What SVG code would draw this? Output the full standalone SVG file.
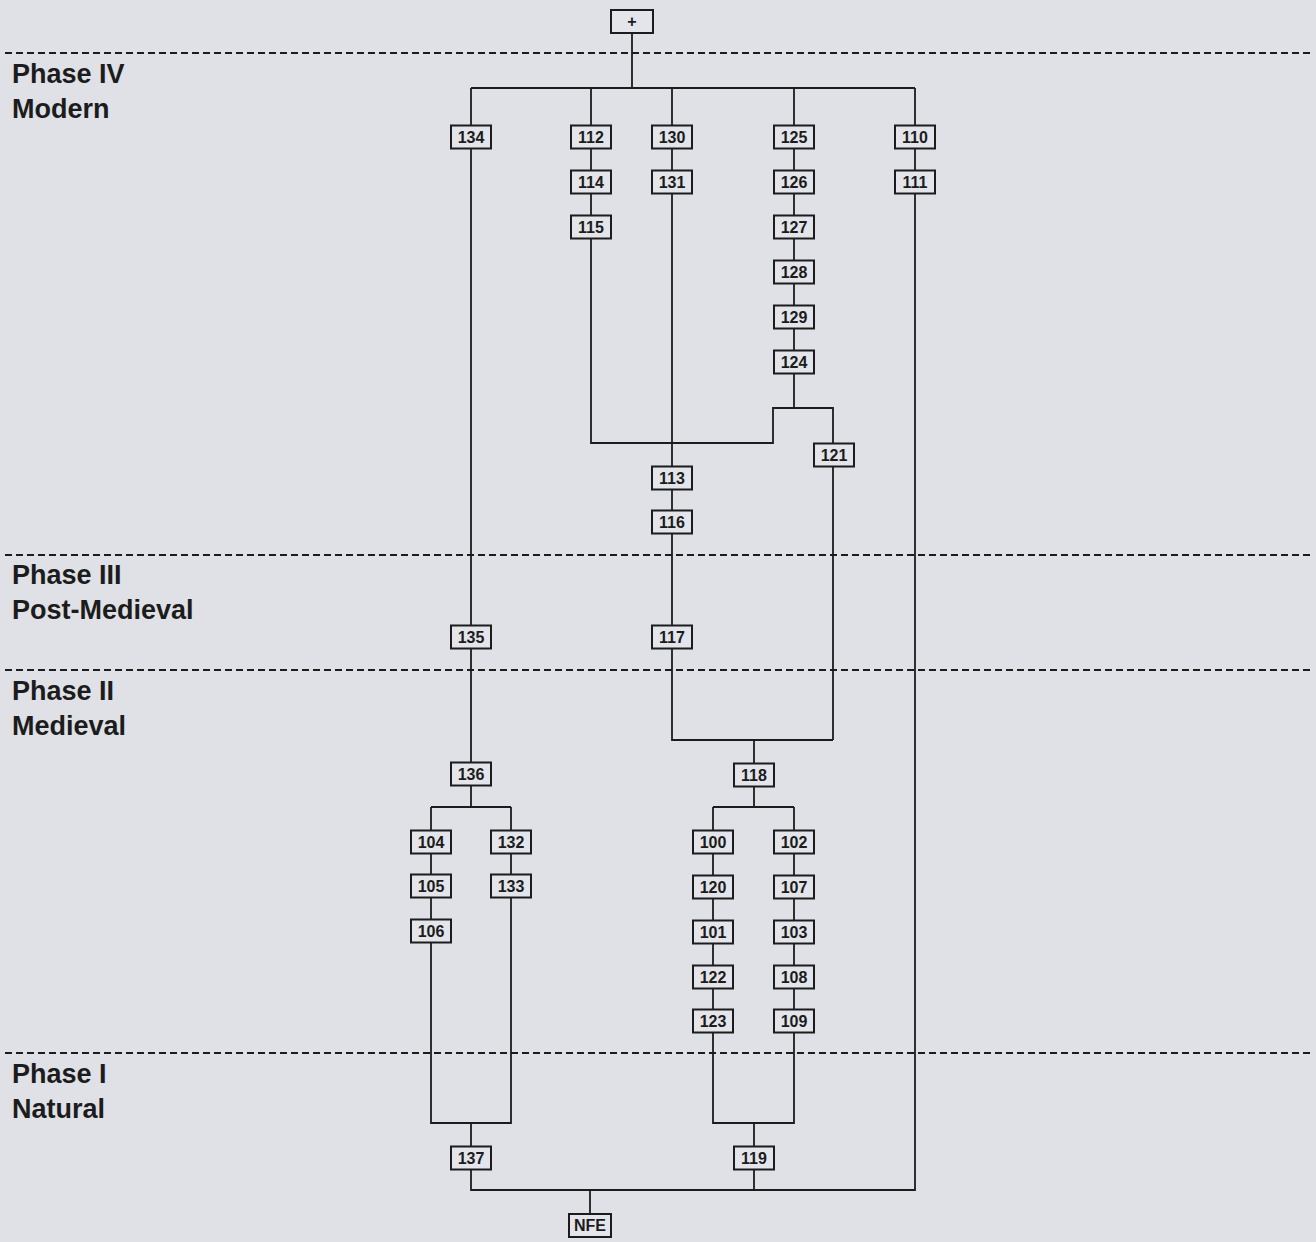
<svg xmlns="http://www.w3.org/2000/svg" width="1316" height="1242" viewBox="0 0 1316 1242">
<style>
.bg{fill:#dfe1e6}
.box{fill:#e3e5ea;stroke:#1c1c1c;stroke-width:2}
.t{font-family:"Liberation Sans",Arial,sans-serif;font-weight:bold;font-size:16px;fill:#1c1c1c;text-anchor:middle}
.ph{font-family:"Liberation Sans",Arial,sans-serif;font-weight:bold;font-size:27px;fill:#1c1c1c}
.c{fill:none;stroke:#1c1c1c;stroke-width:1.8}
.d{fill:none;stroke:#1c1c1c;stroke-width:2;stroke-dasharray:7 4}
</style>
<defs>
<rect id="b" class="box" x="-20" y="-11.5" width="40" height="23"/>
</defs>
<rect class="bg" x="0" y="0" width="1316" height="1242"/>
<g id="phases">
<line class="d" x1="5" y1="53" x2="1310" y2="53"/>
<line class="d" x1="5" y1="555" x2="1310" y2="555"/>
<line class="d" x1="5" y1="670" x2="1310" y2="670"/>
<line class="d" x1="5" y1="1053" x2="1310" y2="1053"/>
<text class="ph" x="12" y="83">Phase IV</text>
<text class="ph" x="12" y="118">Modern</text>
<text class="ph" x="12" y="584">Phase III</text>
<text class="ph" x="12" y="619">Post-Medieval</text>
<text class="ph" x="12" y="700">Phase II</text>
<text class="ph" x="12" y="735">Medieval</text>
<text class="ph" x="12" y="1083">Phase I</text>
<text class="ph" x="12" y="1118">Natural</text>
</g>
<g id="connectors">
<path class="c" d="M632,33 V88 M471,88 H915"/>
<path class="c" d="M471,88 V807 M431,807 H511 M431,807 V1123 H511 V807 M471,1123 V1190 H915 V88"/>
<path class="c" d="M591,88 V443 H773 V408 H833 V740 M672,88 V740 H833 M794,88 V408"/>
<path class="c" d="M754,740 V807 M713,807 H794 M713,807 V1123 H794 V807 M754,1123 V1190"/>
<path class="c" d="M590,1190 V1214"/>
</g>
<g id="top"><rect class="box" x="611" y="10" width="42" height="23"/><text class="t" x="632" y="27">+</text></g>
<g id="n134"><use href="#b" x="471" y="137"/><text class="t" x="471" y="143">134</text></g>
<g id="n112"><use href="#b" x="591" y="137"/><text class="t" x="591" y="143">112</text></g>
<g id="n114"><use href="#b" x="591" y="182"/><text class="t" x="591" y="188">114</text></g>
<g id="n115"><use href="#b" x="591" y="227"/><text class="t" x="591" y="233">115</text></g>
<g id="n130"><use href="#b" x="672" y="137"/><text class="t" x="672" y="143">130</text></g>
<g id="n131"><use href="#b" x="672" y="182"/><text class="t" x="672" y="188">131</text></g>
<g id="n125"><use href="#b" x="794" y="137"/><text class="t" x="794" y="143">125</text></g>
<g id="n126"><use href="#b" x="794" y="182"/><text class="t" x="794" y="188">126</text></g>
<g id="n127"><use href="#b" x="794" y="227"/><text class="t" x="794" y="233">127</text></g>
<g id="n128"><use href="#b" x="794" y="272"/><text class="t" x="794" y="278">128</text></g>
<g id="n129"><use href="#b" x="794" y="317"/><text class="t" x="794" y="323">129</text></g>
<g id="n124"><use href="#b" x="794" y="362"/><text class="t" x="794" y="368">124</text></g>
<g id="n110"><use href="#b" x="915" y="137"/><text class="t" x="915" y="143">110</text></g>
<g id="n111"><use href="#b" x="915" y="182"/><text class="t" x="915" y="188">111</text></g>
<g id="n121"><use href="#b" x="834" y="455"/><text class="t" x="834" y="461">121</text></g>
<g id="n113"><use href="#b" x="672" y="478"/><text class="t" x="672" y="484">113</text></g>
<g id="n116"><use href="#b" x="672" y="522"/><text class="t" x="672" y="528">116</text></g>
<g id="n135"><use href="#b" x="471" y="637"/><text class="t" x="471" y="643">135</text></g>
<g id="n117"><use href="#b" x="672" y="637"/><text class="t" x="672" y="643">117</text></g>
<g id="n136"><use href="#b" x="471" y="774"/><text class="t" x="471" y="780">136</text></g>
<g id="n118"><use href="#b" x="754" y="775"/><text class="t" x="754" y="781">118</text></g>
<g id="n104"><use href="#b" x="431" y="842"/><text class="t" x="431" y="848">104</text></g>
<g id="n105"><use href="#b" x="431" y="886"/><text class="t" x="431" y="892">105</text></g>
<g id="n106"><use href="#b" x="431" y="931"/><text class="t" x="431" y="937">106</text></g>
<g id="n132"><use href="#b" x="511" y="842"/><text class="t" x="511" y="848">132</text></g>
<g id="n133"><use href="#b" x="511" y="886"/><text class="t" x="511" y="892">133</text></g>
<g id="n100"><use href="#b" x="713" y="842"/><text class="t" x="713" y="848">100</text></g>
<g id="n120"><use href="#b" x="713" y="887"/><text class="t" x="713" y="893">120</text></g>
<g id="n101"><use href="#b" x="713" y="932"/><text class="t" x="713" y="938">101</text></g>
<g id="n122"><use href="#b" x="713" y="977"/><text class="t" x="713" y="983">122</text></g>
<g id="n123"><use href="#b" x="713" y="1021"/><text class="t" x="713" y="1027">123</text></g>
<g id="n102"><use href="#b" x="794" y="842"/><text class="t" x="794" y="848">102</text></g>
<g id="n107"><use href="#b" x="794" y="887"/><text class="t" x="794" y="893">107</text></g>
<g id="n103"><use href="#b" x="794" y="932"/><text class="t" x="794" y="938">103</text></g>
<g id="n108"><use href="#b" x="794" y="977"/><text class="t" x="794" y="983">108</text></g>
<g id="n109"><use href="#b" x="794" y="1021"/><text class="t" x="794" y="1027">109</text></g>
<g id="n137"><use href="#b" x="471" y="1158"/><text class="t" x="471" y="1164">137</text></g>
<g id="n119"><use href="#b" x="754" y="1158"/><text class="t" x="754" y="1164">119</text></g>
<g id="nfe"><rect class="box" x="569" y="1214" width="42" height="23"/><text class="t" x="590" y="1231">NFE</text></g>
</svg>
